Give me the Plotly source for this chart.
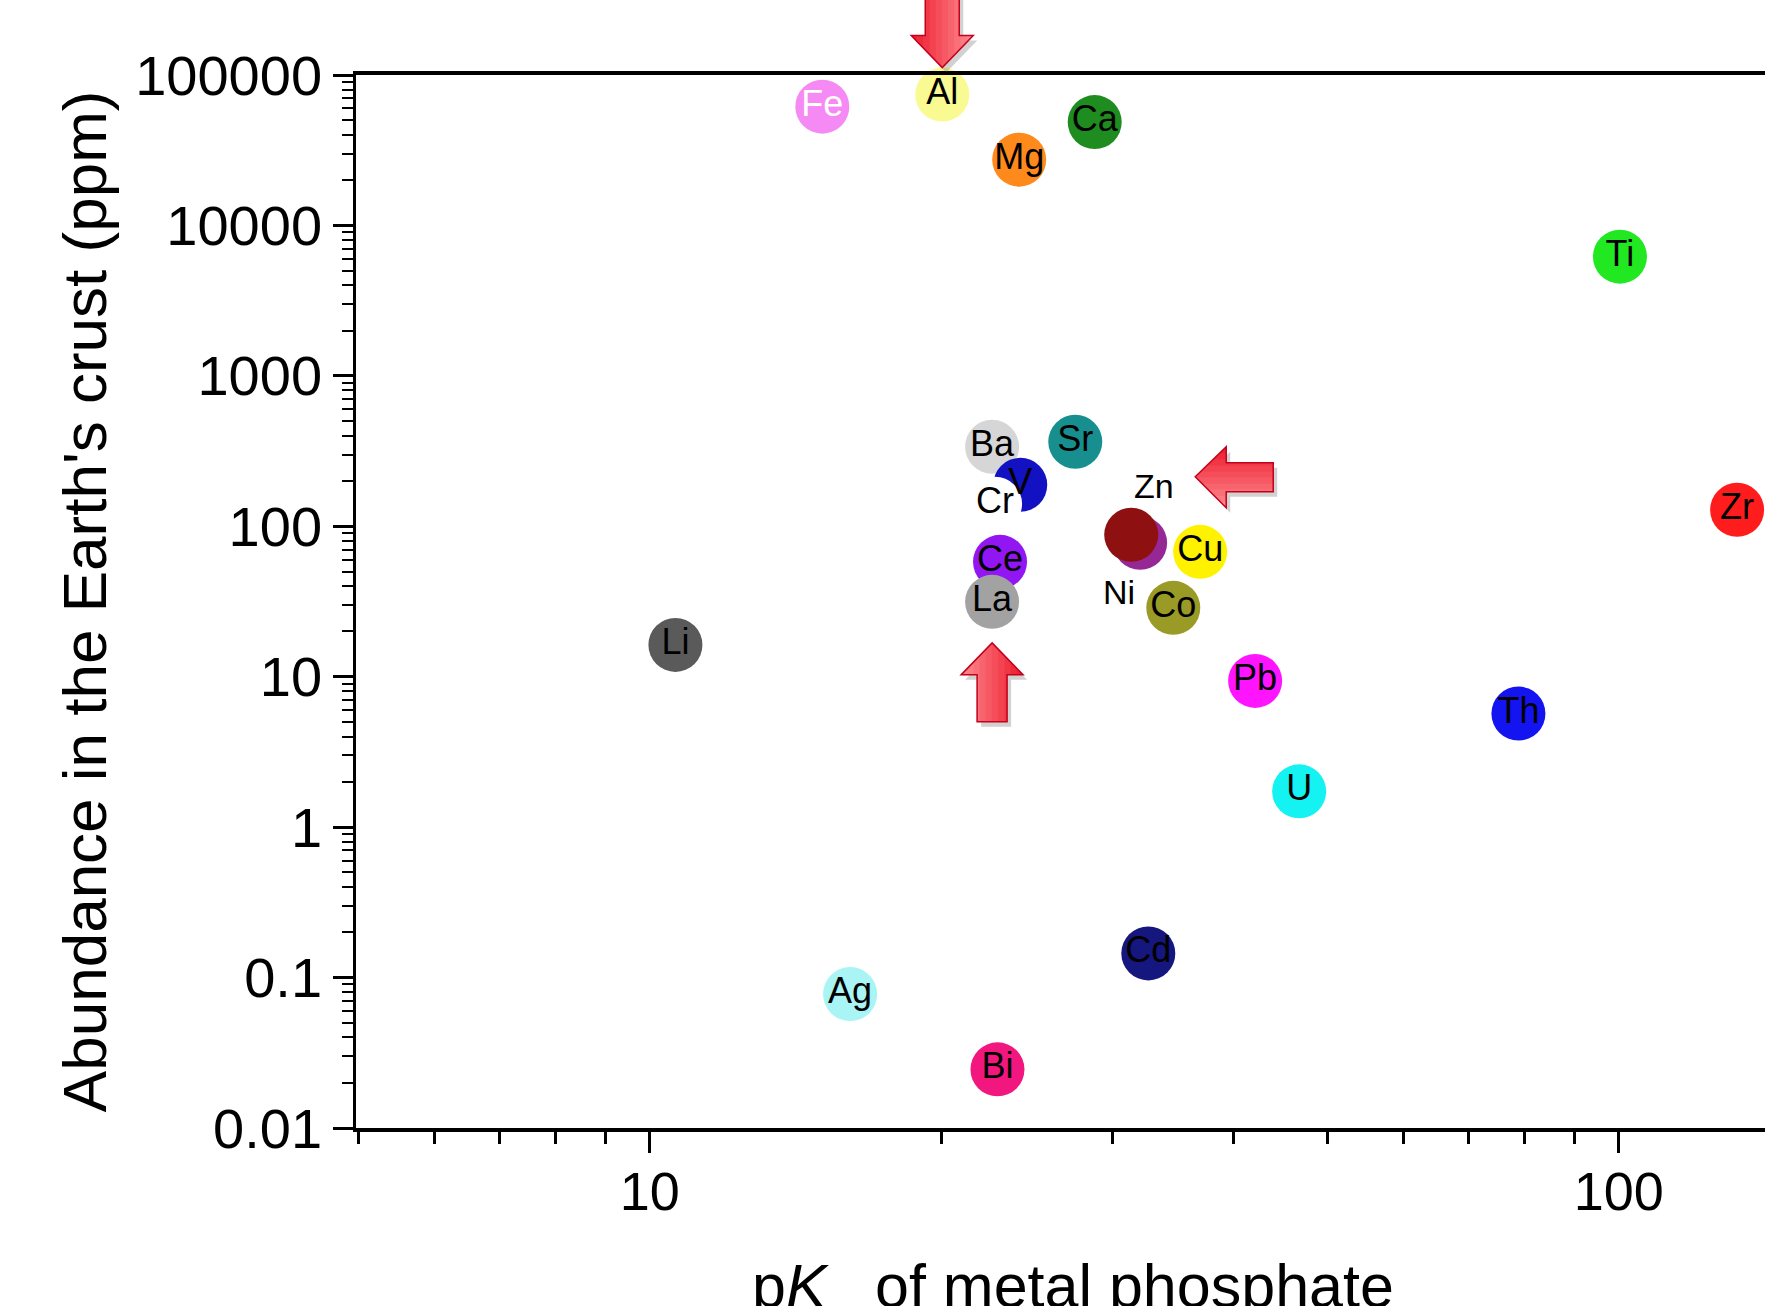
import math
import plotly.graph_objects as go

# ---- data ----
elements = ["Fe", "Al", "Ca", "Mg", "Ti", "Zr", "Ba", "Sr", "V", "Cr", "Ni", "Zn",
            "Cu", "Ce", "La", "Co", "Li", "Pb", "Th", "U", "Cd", "Ag", "Bi"]
pksp = [15.07, 20.04, 28.79, 24.06, 100.3, 132.5, 22.56, 27.49, 24.12, 22.72, 32.07, 31.4,
        36.99, 22.99, 22.56, 34.7, 10.63, 42.15, 78.8, 46.8, 32.7, 16.1, 22.85]
abundance = [61600, 74070, 48630, 27370, 6199, 128.7, 337.8, 364.7, 188.7, 141.1, 77.6, 87.8,
             67.65, 58.05, 31.45, 28.7, 16.28, 9.38, 5.69, 1.73, 0.1447, 0.0777, 0.02455]
colors = ["#F58AF5", "#FAFA92", "#1E8C1E", "#FF8A1C", "#22E822", "#FF1C1C", "#D6D6D6",
          "#178F8F", "#1212C2", "#FFFFFF", "#952895", "#8E1010", "#FFF200", "#9216F2",
          "#A2A2A2", "#9A9A26", "#5A5A5A", "#FF14FF", "#1414F0", "#14F2F2", "#16167F",
          "#A9F4F4", "#F2167F"]
label_colors = ["white"] + ["black"] * (len(elements) - 1)
outside_labels = {"Zn": (23, 49), "Ni": (-21, -49)}   # pixel offsets of labels drawn beside circles

y_tickvals = [0.01, 0.1, 1, 10, 100, 1000, 10000, 100000]
y_ticktext = ["0.01", "0.1", "1", "10", "100", "1000", "10000", "100000"]
x_tickvals = [10, 100]
x_ticktext = ["10", "100"]

FONT = "Liberation Sans, Arial, sans-serif"

fig = go.Figure()

# circles
fig.add_trace(go.Scatter(
    x=pksp, y=abundance, mode="markers",
    marker=dict(size=54, color=colors, line=dict(width=0)),
    hoverinfo="skip", cliponaxis=False, showlegend=False))

# labels centred on their circles
keep = [i for i, e in enumerate(elements) if e not in outside_labels]
fig.add_trace(go.Scatter(
    x=[pksp[i] for i in keep], y=[abundance[i] for i in keep], mode="text",
    text=[elements[i] for i in keep], textposition="middle center",
    textfont=dict(family=FONT, size=36, color=[label_colors[i] for i in keep]),
    hoverinfo="skip", cliponaxis=False, showlegend=False))

idx = {e: i for i, e in enumerate(elements)}
for name, (dx, dy) in outside_labels.items():
    i = idx[name]
    fig.add_annotation(x=math.log10(pksp[i]), y=math.log10(abundance[i]), xref="x", yref="y",
                       text=name, showarrow=False, xshift=dx, yshift=dy,
                       font=dict(family=FONT, size=34, color="black"))


# ---- block arrows (pixel polygons anchored on points, with a simple gradient) ----
def clip_band(poly, k, lo, hi):
    def clip(pts, inside, inter):
        out = []
        n = len(pts)
        for j in range(n):
            cur, prev = pts[j], pts[j - 1]
            if inside(cur):
                if not inside(prev):
                    out.append(inter(prev, cur))
                out.append(cur)
            elif inside(prev):
                out.append(inter(prev, cur))
        return out

    def make_inter(v):
        def f(p, q):
            t = (v - p[k]) / (q[k] - p[k])
            return tuple(p[m] + t * (q[m] - p[m]) for m in range(2))
        return f
    pts = clip(poly, lambda p: p[k] >= lo, make_inter(lo))
    if pts:
        pts = clip(pts, lambda p: p[k] <= hi, make_inter(hi))
    return pts


def to_path(pts):
    return "M " + " L ".join(f"{p[0]:.2f},{p[1]:.2f}" for p in pts) + " Z"


def mix(c1, c2, t):
    a = [int(c1[i:i + 2], 16) for i in (1, 3, 5)]
    b = [int(c2[i:i + 2], 16) for i in (1, 3, 5)]
    return "#" + "".join(f"{round(a[m] + t * (b[m] - a[m])):02X}" for m in range(3))


RED, LIGHT = "#EC1A2C", "#FF8C92"
arrows = [
    # anchor element, polygon (px, y up), gradient axis (0=x,1=y), colour at low end, colour at high end
    ("Al", [(-17, 110), (17, 110), (17, 59), (31, 59), (0, 27), (-31, 59), (-17, 59)], 0, RED, LIGHT),
    ("La", [(0, -41), (31, -73), (15, -73), (15, -120), (-15, -120), (-15, -73), (-31, -73)], 0, LIGHT, RED),
    ("Zn", [(64, 58), (95, 88), (95, 72), (142, 72), (142, 43), (95, 43), (95, 27)], 1, LIGHT, RED),
]
NSTRIP = 10
for name, poly, k, c_lo, c_hi in arrows:
    i = idx[name]
    yp = (math.log10(abundance[i]) + 2) / 7.0
    common = dict(type="path", xref="x", yref="paper", xsizemode="pixel", ysizemode="pixel",
                  xanchor=pksp[i], yanchor=yp, layer="above")
    shadow = [(p[0] + 4, p[1] - 5) for p in poly]
    fig.add_shape(path=to_path(shadow), fillcolor="rgba(90,90,90,0.28)", line=dict(width=0), **common)
    lo = min(p[k] for p in poly)
    hi = max(p[k] for p in poly)
    step = (hi - lo) / NSTRIP
    for s in range(NSTRIP):
        band = clip_band(poly, k, lo + s * step - 0.3, lo + (s + 1) * step + 0.3)
        if len(band) >= 3:
            fig.add_shape(path=to_path(band), fillcolor=mix(c_lo, c_hi, (s + 0.5) / NSTRIP),
                          line=dict(width=0), **common)
    fig.add_shape(path=to_path(poly), fillcolor="rgba(0,0,0,0)",
                  line=dict(color="#C4001C", width=1.5), **common)

minor_y = [m * 10 ** e for e in range(-2, 5) for m in range(2, 10)]
minor_x = [5, 6, 7, 8, 9] + [m * 10 for m in range(2, 10)]

fig.update_xaxes(type="log", range=[math.log10(4.976), 2.151],
                 tickmode="array", tickvals=x_tickvals, ticktext=x_ticktext,
                 ticks="outside", ticklen=21, tickwidth=2.5, tickcolor="black",
                 showline=True, linewidth=4, linecolor="black", mirror=True,
                 showgrid=False, zeroline=False,
                 tickfont=dict(family=FONT, size=54, color="black"),
                 ticklabelstandoff=-8,
                 minor=dict(tickmode="array", tickvals=minor_x, ticks="outside",
                            ticklen=12, tickwidth=2.5, tickcolor="black", showgrid=False))
fig.update_yaxes(type="log", range=[-2, 5],
                 tickmode="array", tickvals=y_tickvals, ticktext=y_ticktext,
                 ticks="outside", ticklen=20, tickwidth=2.5, tickcolor="black",
                 showline=True, linewidth=2.5, linecolor="black", mirror=False,
                 showgrid=False, zeroline=False,
                 tickfont=dict(family=FONT, size=56, color="black"),
                 ticklabelstandoff=0,
                 minor=dict(tickmode="array", tickvals=minor_y, ticks="outside",
                            ticklen=11, tickwidth=2, tickcolor="black", showgrid=False))

# axis titles (the x title runs off the bottom edge, as in the reference)
fig.add_annotation(xref="paper", yref="paper", x=-0.1926, y=0.5, xanchor="center", yanchor="middle",
                   text="Abundance in the Earth's crust (ppm)", textangle=-90, showarrow=False,
                   font=dict(family=FONT, size=62, color="black"))
fig.add_annotation(xref="paper", yref="paper", x=0.2799, y=-0.1159, xanchor="left", yanchor="top",
                   text="p<i>K</i>", showarrow=False,
                   font=dict(family=FONT, size=61, color="black"))
fig.add_annotation(xref="paper", yref="paper", x=0.3345, y=-0.1585, xanchor="left", yanchor="top",
                   text="sp", showarrow=False,
                   font=dict(family=FONT, size=40, color="black"))
fig.add_annotation(xref="paper", yref="paper", x=0.3672, y=-0.1159, xanchor="left", yanchor="top",
                   text="of metal phosphate", showarrow=False,
                   font=dict(family=FONT, size=61, color="black"))

fig.update_layout(width=1765, height=1306,
                  margin=dict(l=356, r=0, t=75, b=178, autoexpand=False),
                  paper_bgcolor="white", plot_bgcolor="white",
                  showlegend=False)

fig.write_html("out.html", config={"displayModeBar": False},
               post_script="document.body.style.margin='0';document.body.style.overflow='hidden';")
